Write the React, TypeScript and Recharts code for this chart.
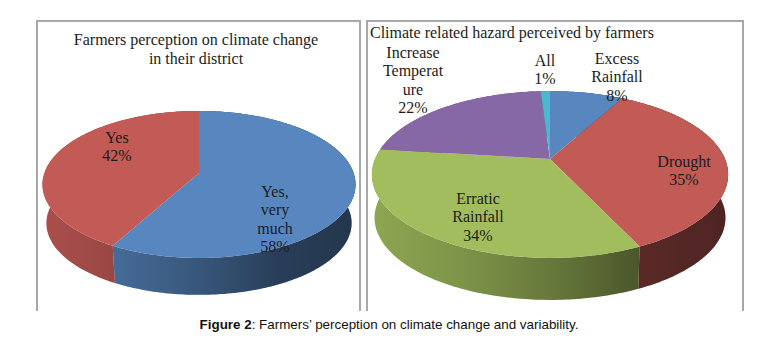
import React from 'react';
import { PieChart, Pie } from 'recharts';

const leftCategories = ['Yes, very much', 'Yes'];
const leftValues = [58, 42];
const leftColors = ['#5887c0', '#c25a56'];

const rightCategories = ['Excess Rainfall', 'Drought', 'Erratic Rainfall', 'Increase Temperature', 'All'];
const rightValues = [8, 35, 34, 22, 1];
const rightColors = ['#5887c0', '#c25a56', '#a1bd5d', '#8768a6', '#4bb8cf'];

const leftLabelLines = [['Yes,', 'very', 'much'], ['Yes']];
const rightLabelLines = [['Excess', 'Rainfall'], ['Drought'], ['Erratic', 'Rainfall'], ['Increase', 'Temperat', 'ure'], ['All']];

const leftData = leftCategories.map((name, i) => ({ name, value: leftValues[i], fill: leftColors[i] }));
const rightData = rightCategories.map((name, i) => ({ name, value: rightValues[i], fill: rightColors[i] }));

// label anchors, centre x and first line y
const leftLabelPos = [[275, 197], [117, 143]];
const rightLabelPos = [[617, 64], [684, 167], [478, 204], [413, 58], [545, 66]];

const LINE_HEIGHT = 18.4;
const SERIF = '"Liberation Serif", serif';

interface View {
  tilt: number;
  squash: number;
  depth: number;
  shrink: number;
}

const leftView: View = { tilt: 0.156, squash: 0.464, depth: 39, shrink: 0.975 };
const rightView: View = { tilt: 0.186, squash: 0.46, depth: 43.5, shrink: 0.985 };

// the pies are seen in perspective, so the apex sits above the ellipse centre
const project = (v: View, cx: number, cy: number, r: number, deg: number, lower = false) => {
  const a = (deg * Math.PI) / 180;
  const w = 1 + v.tilt * Math.sin(a);
  const s = lower ? v.shrink : 1;
  return [
    cx + (s * r * Math.cos(a)) / w,
    cy - (s * v.squash * r * Math.sin(a)) / w + (lower ? v.depth : 0),
  ];
};

const arcPoints = (v: View, p: any, from: number, to: number, lower = false) => {
  const steps = Math.max(2, Math.ceil(Math.abs(to - from)));
  const pts: number[][] = [];
  for (let i = 0; i <= steps; i++) {
    pts.push(project(v, p.cx, p.cy, p.outerRadius, from + ((to - from) * i) / steps, lower));
  }
  return pts;
};

const toPath = (pts: number[][]) => pts.map((q, i) => `${i ? 'L' : 'M'}${q[0].toFixed(2)} ${q[1].toFixed(2)}`).join(' ');

const capShape = (v: View) => (p: any) => {
  const pts = [[p.cx, p.cy], ...arcPoints(v, p, p.startAngle, p.endAngle)];
  return <path d={`${toPath(pts)} Z`} fill={p.fill} stroke="none" />;
};

const wallShape = (v: View, shadeId: string) => (p: any) => {
  const top = arcPoints(v, p, p.startAngle, p.endAngle);
  const bottom = arcPoints(v, p, p.endAngle, p.startAngle, true);
  const d = `${toPath([...top, ...bottom])} Z`;
  return (
    <g>
      <path d={d} fill={p.fill} stroke="none" />
      <path d={d} fill={`url(#${shadeId})`} stroke="none" />
    </g>
  );
};

const sliceLabel = (lines: string[][], pos: number[][]) => (p: any) => {
  const [x, y] = pos[p.index];
  const rows = [...lines[p.index], `${p.value}%`];
  return (
    <text x={x} y={y} textAnchor="middle" fontFamily={SERIF} fontSize={16} fill="#1c1c1c">
      {rows.map((row, i) => (
        <tspan key={i} x={x} y={y + i * LINE_HEIGHT}>
          {row}
        </tspan>
      ))}
    </text>
  );
};

const Shade = ({ id, x1, x2 }: { id: string; x1: number; x2: number }) => (
  <linearGradient id={id} gradientUnits="userSpaceOnUse" x1={x1} y1={0} x2={x2} y2={0}>
    <stop offset="0%" stopColor="#000" stopOpacity={0.12} />
    <stop offset="25%" stopColor="#000" stopOpacity={0.22} />
    <stop offset="50%" stopColor="#000" stopOpacity={0.36} />
    <stop offset="75%" stopColor="#000" stopOpacity={0.54} />
    <stop offset="100%" stopColor="#000" stopOpacity={0.6} />
  </linearGradient>
);

const frameStyle = (left: number, width: number): React.CSSProperties => ({
  position: 'absolute',
  left,
  top: 20,
  width,
  height: 291,
  boxSizing: 'border-box',
  borderTop: '2px solid #a8a8a8',
  borderLeft: '2px solid #a8a8a8',
  borderRight: '2px solid #a8a8a8',
});

const titleStyle: React.CSSProperties = {
  position: 'absolute',
  fontFamily: SERIF,
  fontSize: 16,
  lineHeight: '19px',
  color: '#1c1c1c',
  whiteSpace: 'nowrap',
};

export default function App() {
  return (
    <div style={{ position: 'absolute', left: 0, top: 0, width: 784, height: 343, background: '#fff', overflow: 'hidden' }}>
      <div style={frameStyle(36, 325)} />
      <div style={frameStyle(366, 378)} />
      <div style={{ ...titleStyle, left: 36, width: 320, top: 30, textAlign: 'center' }}>
        Farmers perception on climate change
        <br />
        in their district
      </div>
      <div style={{ ...titleStyle, left: 370, top: 23 }}>Climate related hazard perceived by farmers</div>
      <div style={{ position: 'absolute', left: 0, top: 0 }}>
        <PieChart width={784} height={343} margin={{ top: 0, right: 0, bottom: 0, left: 0 }}>
          <defs>
            <Shade id="shadeLeft" x1={42} x2={355} />
            <Shade id="shadeRight" x1={372} x2={728} />
          </defs>
          <Pie
            data={leftData}
            dataKey="value"
            cx={199}
            cy={173}
            outerRadius={154.6}
            startAngle={90}
            endAngle={-270}
            shape={wallShape(leftView, 'shadeLeft')}
            isAnimationActive={false}
          />
          <Pie
            data={rightData}
            dataKey="value"
            cx={550}
            cy={159}
            outerRadius={175}
            startAngle={90}
            endAngle={-270}
            shape={wallShape(rightView, 'shadeRight')}
            isAnimationActive={false}
          />
          <Pie
            data={leftData}
            dataKey="value"
            cx={199}
            cy={173}
            outerRadius={154.6}
            startAngle={90}
            endAngle={-270}
            shape={capShape(leftView)}
            label={sliceLabel(leftLabelLines, leftLabelPos)}
            labelLine={false}
            isAnimationActive={false}
          />
          <Pie
            data={rightData}
            dataKey="value"
            cx={550}
            cy={159}
            outerRadius={175}
            startAngle={90}
            endAngle={-270}
            shape={capShape(rightView)}
            label={sliceLabel(rightLabelLines, rightLabelPos)}
            labelLine={false}
            isAnimationActive={false}
          />
        </PieChart>
      </div>
      <div
        style={{
          position: 'absolute',
          left: 0,
          width: 778,
          top: 318,
          textAlign: 'center',
          fontFamily: '"Liberation Sans", Arial, sans-serif',
          fontSize: 13.4,
          lineHeight: '14px',
          color: '#111',
        }}
      >
        <b>Figure 2</b>: Farmers’ perception on climate change and variability.
      </div>
    </div>
  );
}
